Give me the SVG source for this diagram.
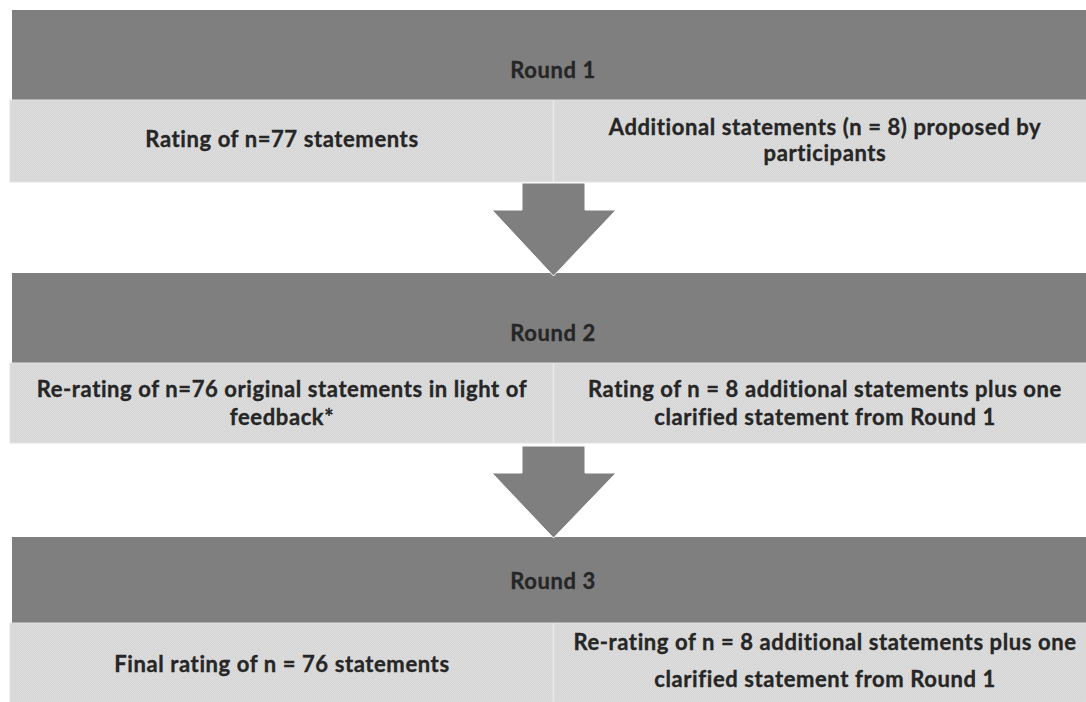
<svg xmlns="http://www.w3.org/2000/svg" width="1086" height="702" viewBox="0 0 1086 702">
<defs>
<pattern id="tex" width="2" height="2" patternUnits="userSpaceOnUse">
<rect width="2" height="2" fill="#d5d5d5"/>
<rect width="1" height="1" fill="#dddddd"/>
<rect x="1" y="1" width="1" height="1" fill="#dddddd"/>
</pattern>
<style>
.hdr{fill:#7f7f7f}
.cell{fill:url(#tex);stroke:#e2e2e2;stroke-width:1}
.arrow{fill:#7f7f7f;stroke:#ffffff;stroke-width:1}
text{font-family:Lato,"Open Sans","Liberation Sans",sans-serif;font-weight:bold;font-size:22px;letter-spacing:0.6px;fill:#262626;stroke:#262626;stroke-width:0.35;text-anchor:middle}
</style>
</defs>
<rect width="1086" height="702" fill="#ffffff"/>

<g id="round1-header"><rect class="hdr" x="12" y="10" width="1084" height="90"/><text x="553" y="78">Round 1</text></g>
<g id="round1-left"><rect class="cell" x="10" y="100" width="543" height="82"/><text x="282" y="147">Rating of n=77 statements</text></g>
<g id="round1-right"><rect class="cell" x="554" y="100" width="542" height="82"/><text x="825" y="135">Additional statements (n = 8) proposed by</text><text x="825" y="161">participants</text></g>

<g id="round2-header"><rect class="hdr" x="12" y="273" width="1084" height="90"/><text x="553" y="341">Round 2</text></g>
<g id="round2-left"><rect class="cell" x="10" y="363" width="543" height="80"/><text x="282" y="397">Re-rating of n=76 original statements in light of</text><text x="282" y="425">feedback*</text></g>
<g id="round2-right"><rect class="cell" x="554" y="363" width="542" height="80"/><text x="825" y="397">Rating of n = 8 additional statements plus one</text><text x="825" y="425">clarified statement from Round 1</text></g>

<g id="round3-header"><rect class="hdr" x="12" y="537" width="1084" height="86"/><text x="553" y="589">Round 3</text></g>
<g id="round3-left"><rect class="cell" x="10" y="623" width="543" height="85"/><text x="282" y="672">Final rating of n = 76 statements</text></g>
<g id="round3-right"><rect class="cell" x="554" y="623" width="542" height="85"/><text x="825" y="650">Re-rating of n = 8 additional statements plus one</text><text x="825" y="687">clarified statement from Round 1</text></g>

<g id="connectors">
<polygon class="arrow" points="522,183 585,183 585,210 616,210 553.5,276 492,210 522,210"/>
<polygon class="arrow" points="522,446 585,446 585,473 616,473 553.5,538 492,473 522,473"/>
</g>
</svg>
